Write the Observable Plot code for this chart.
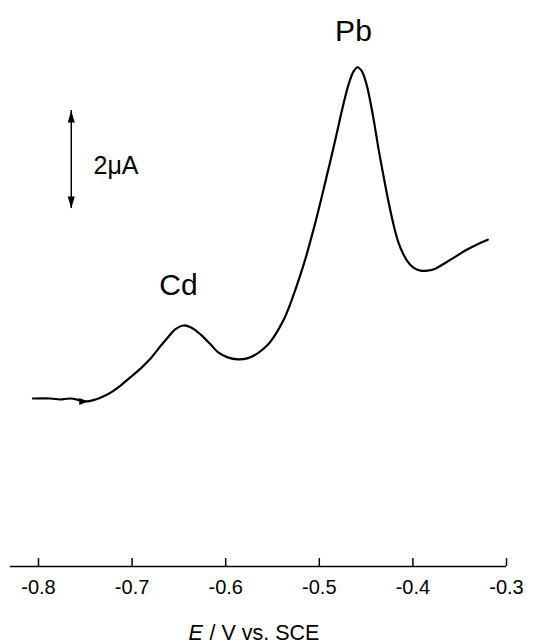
<!DOCTYPE html>
<html><head><meta charset="utf-8">
<script src="https://cdn.jsdelivr.net/npm/d3@7"></script>
<script src="https://cdn.jsdelivr.net/npm/@observablehq/plot@0.6"></script>
<style>html,body{margin:0;padding:0;background:#fff}</style>
</head><body><div id="chart"></div>
<script>
// Potential E (V vs. SCE) and current (µA, relative to baseline)
const potential = [-0.806,-0.787,-0.777,-0.766,-0.755,-0.748,-0.739,-0.731,-0.723,-0.712,-0.702,-0.691,-0.680,-0.670,-0.662,-0.654,-0.645,-0.637,-0.627,-0.616,-0.608,-0.598,-0.587,-0.577,-0.566,-0.5553,-0.5468,-0.5382,-0.5308,-0.5222,-0.5147,-0.5073,-0.5009,-0.4944,-0.4880,-0.4816,-0.4763,-0.4720,-0.4677,-0.4635,-0.4592,-0.4549,-0.4517,-0.4485,-0.4453,-0.4410,-0.4368,-0.4325,-0.4282,-0.4239,-0.4197,-0.4154,-0.4111,-0.4058,-0.3994,-0.3919,-0.3844,-0.376,-0.366,-0.354,-0.344,-0.332,-0.320];
const current   = [0,0,-0.02,0,-0.04,-0.06,-0.02,0.04,0.12,0.27,0.43,0.61,0.82,1.06,1.24,1.41,1.49,1.45,1.31,1.10,0.94,0.84,0.80,0.82,0.92,1.09,1.31,1.60,1.94,2.41,2.86,3.37,3.84,4.35,4.86,5.39,5.84,6.18,6.47,6.67,6.76,6.69,6.55,6.33,6.04,5.59,5.10,4.65,4.22,3.82,3.47,3.18,2.98,2.80,2.67,2.61,2.61,2.65,2.76,2.90,3.02,3.14,3.24];

const xTicks = [-0.8,-0.7,-0.6,-0.5,-0.4,-0.3];
const xTickLabels = ["-0.8","-0.7","-0.6","-0.5","-0.4","-0.3"];

const peakNames = ["Cd","Pb"];
const peakE = [-0.6505,-0.4635];
const peakI = [2.30,7.49];

const scanMarkE = -0.748, scanMarkI = -0.06;   // scan-direction marker
const scaleBarE = -0.765, scaleBarI = [3.878, 5.878]; // 2 µA scale bar
const scaleBarLabel = "2μA", scaleLabelE = -0.7412, scaleLabelI = 4.755;

const axisI = -3.43, axisStartE = -0.83;
const titleE = -0.55;

const data = potential.map((E,i)=>({E, I: current[i]}));
const ticks = xTicks.map((x,i)=>({x, label: xTickLabels[i]}));
const peaks = peakNames.map((n,i)=>({n, E: peakE[i], I: peakI[i]}));

// narrow filled arrowhead with its tip at the origin, pointing up
const headSymbol = {draw(ctx){ ctx.moveTo(0,0); ctx.lineTo(3.5,12); ctx.lineTo(-3.5,12); ctx.closePath(); }};
const smallHead = {draw(ctx){ ctx.moveTo(0,-1); ctx.lineTo(3.5,8); ctx.lineTo(-3.5,8); ctx.closePath(); }};

const tickLen = 8/49;

const chart = Plot.plot({
  width: 534,
  height: 644,
  style: {fontFamily: "'Liberation Sans', Arial, sans-serif", background: "#fff"},
  x: {domain: [-0.8, -0.3], range: [38, 506], axis: null},
  y: {domain: [0, 6], range: [398, 104], axis: null},
  marks: [
    Plot.line(data, {x: "E", y: "I", stroke: "black", strokeWidth: 2.2, curve: "catmull-rom"}),
    Plot.dot([{E: scanMarkE, I: scanMarkI}], {x: "E", y: "I", symbol: smallHead, rotate: 90, fill: "black", stroke: "none"}),
    // scale bar
    Plot.ruleX([scaleBarE], {x: d=>d, y1: scaleBarI[0], y2: scaleBarI[1], stroke: "black", strokeWidth: 1.5}),
    Plot.dot([{E: scaleBarE, I: scaleBarI[1]}], {x: "E", y: "I", symbol: headSymbol, fill: "black", stroke: "none"}),
    Plot.dot([{E: scaleBarE, I: scaleBarI[0]}], {x: "E", y: "I", symbol: headSymbol, rotate: 180, fill: "black", stroke: "none"}),
    Plot.text([scaleBarLabel], {x: scaleLabelE, y: scaleLabelI, text: d=>d, textAnchor: "start", lineAnchor: "middle", fontSize: 25, fill: "black"}),
    // peak labels
    Plot.text(peaks, {x: "E", y: "I", text: "n", lineAnchor: "middle", fontSize: 30, fill: "black"}),
    // x axis
    Plot.ruleY([axisI], {y: d=>d, x1: axisStartE, x2: -0.3, stroke: "black", strokeWidth: 1.5}),
    Plot.ruleX(ticks, {x: "x", y1: axisI, y2: axisI + tickLen, stroke: "black", strokeWidth: 1.5}),
    Plot.text(ticks, {x: "x", y: axisI, text: "label", dy: 21, lineAnchor: "middle", fontSize: 20, fill: "black"}),
    Plot.text(["E"], {x: titleE, y: axisI, text: d=>d, dx: -84, dy: 67, textAnchor: "start", lineAnchor: "middle", fontSize: 21.5, fontStyle: "italic", fill: "black"}),
    Plot.text(["/ V vs. SCE"], {x: titleE, y: axisI, text: d=>d, dx: -63, dy: 67, textAnchor: "start", lineAnchor: "middle", fontSize: 21.5, fill: "black"})
  ]
});
document.getElementById("chart").appendChild(chart);
</script>
</body></html>
